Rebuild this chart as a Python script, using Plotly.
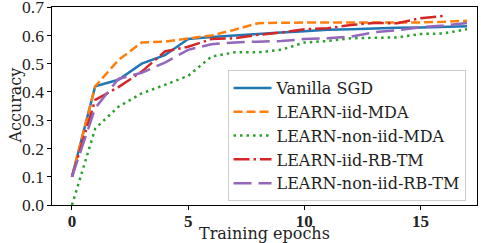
import plotly.graph_objects as go

epochs = list(range(18))
vanilla = [0.10, 0.42, 0.443, 0.50, 0.53, 0.587, 0.594, 0.60, 0.605, 0.61, 0.615, 0.62, 0.622, 0.625, 0.627, 0.628, 0.63, 0.632]
iid_mda = [0.10, 0.42, 0.513, 0.575, 0.578, 0.59, 0.60, 0.62, 0.643, 0.645, 0.646, 0.646, 0.646, 0.646, 0.645, 0.646, 0.648, 0.652]
noniid_mda = [0.0, 0.27, 0.348, 0.395, 0.425, 0.457, 0.525, 0.54, 0.54, 0.549, 0.575, 0.58, 0.59, 0.592, 0.593, 0.605, 0.607, 0.622]
iid_rbtm = [0.10, 0.372, 0.417, 0.472, 0.543, 0.56, 0.587, 0.59, 0.602, 0.61, 0.622, 0.625, 0.637, 0.644, 0.643, 0.661, 0.669]
noniid_rbtm = [0.10, 0.343, 0.446, 0.468, 0.504, 0.549, 0.569, 0.575, 0.578, 0.58, 0.587, 0.59, 0.596, 0.611, 0.618, 0.629, 0.635, 0.644]

names = ["Vanilla SGD", "LEARN-iid-MDA", "LEARN-non-iid-MDA", "LEARN-iid-RB-TM", "LEARN-non-iid-RB-TM"]
series = [vanilla, iid_mda, noniid_mda, iid_rbtm, noniid_rbtm]
colors = ["#1f77b4", "#ff7f0e", "#2ca02c", "#d62728", "#9467bd"]
dashes = ["solid", "9px,4px", "2.5px,4px", "16px,4px,2.5px,4px", "18px,7px"]

fig = go.Figure()
for n, s, c, d in zip(names, series, colors, dashes):
    fig.add_trace(go.Scatter(x=epochs[:len(s)], y=s, mode="lines", name=n,
                             line=dict(color=c, width=2.5, dash=d)))

font = "Liberation Serif"
font2 = "DejaVu Serif"
fig.update_layout(
    width=481, height=243,
    margin=dict(l=52, r=4, t=7, b=38, autoexpand=False),
    plot_bgcolor="white", paper_bgcolor="white",
    font=dict(family=font, size=17, color="#222"),
    showlegend=True,
    legend=dict(x=0.413, xanchor="left", y=0.02, yanchor="bottom",
                bgcolor="rgba(255,255,255,0.8)", bordercolor="#cccccc", borderwidth=1,
                font=dict(family=font2, size=16, color="#222"),
                itemwidth=38, tracegroupgap=0),
    xaxis=dict(range=[-0.86, 17.43], tickvals=[0, 5, 10, 15], ticktext=["<b>0</b>", "<b>5</b>", "<b>10</b>", "<b>15</b>"],
               ticks="outside", ticklen=3.5, ticklabelstandoff=-3,
               tickcolor="black", showline=True, linecolor="black", linewidth=1.2, mirror=True,
               showgrid=False, zeroline=False, automargin=False, ticklabeloverflow="allow",
               tickfont=dict(family=font, size=17, color="#222")),
    yaxis=dict(range=[0, 0.7005], tickvals=[0, 0.1, 0.2, 0.3, 0.4, 0.5, 0.6, 0.7], tickformat=".1f",
               ticks="outside", ticklen=3.5, tickcolor="black", showline=True, linecolor="black",
               linewidth=1.2, mirror=True, showgrid=False, zeroline=False, automargin=False,
               ticklabeloverflow="allow",
               tickfont=dict(family=font, size=17.5, color="#222")),
    annotations=[
        dict(text="Training epochs", xref="paper", yref="paper", x=0.5, y=-0.145, yanchor="middle",
             xanchor="center", showarrow=False, font=dict(family=font2, size=16, color="#222")),
        dict(text="Accuracy", xref="paper", yref="paper", x=-0.088, y=0.5, xanchor="center",
             yanchor="middle", textangle=-90, showarrow=False, font=dict(family=font2, size=16, color="#222")),
    ],
)
fig.write_html("out.html", config={"displayModeBar": False},
               post_script="document.body.style.margin='0';")
